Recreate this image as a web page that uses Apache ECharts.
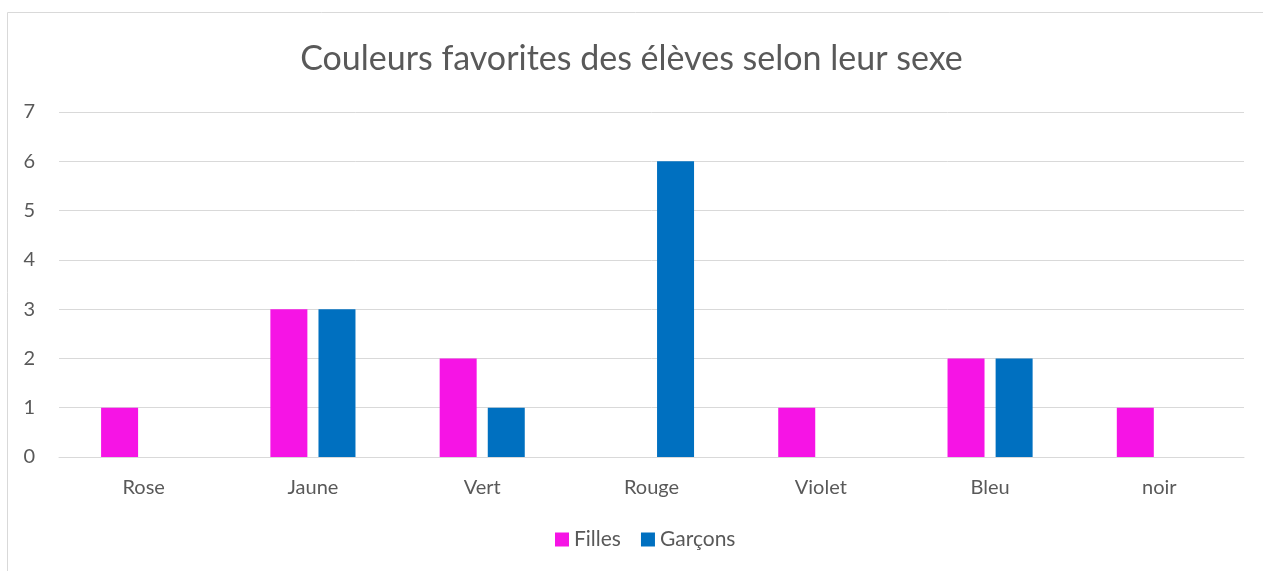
<!DOCTYPE html>
<html>
<head>
<meta charset="utf-8">
<script src="https://cdn.jsdelivr.net/npm/echarts@6/dist/echarts.min.js"></script>
<style>
  html, body { margin: 0; padding: 0; background: #fff; }
  #chart { width: 1263px; height: 571px; }
</style>
</head>
<body>
<div id="chart"></div>
<script>
var categories = ['Rose', 'Jaune', 'Vert', 'Rouge', 'Violet', 'Bleu', 'noir'];
var filles = [1, 3, 2, 0, 1, 2, 1];
var garcons = [0, 3, 1, 6, 0, 2, 0];

var font = 'Lato, "Open Sans", sans-serif';
var chart = echarts.init(document.getElementById('chart'));

chart.setOption({
    animation: false,
    textStyle: { fontFamily: font },
    graphic: [{
        type: 'rect',
        shape: { x: 7.5, y: 12.5, width: 1260, height: 600 },
        style: { fill: 'none', stroke: '#d9d9d9', lineWidth: 1 },
        silent: true
    }],
    title: {
        text: 'Couleurs favorites des élèves selon leur sexe',
        left: 'center',
        top: 37,
        textStyle: { fontFamily: font, fontSize: 34, fontWeight: 'normal', color: '#595959' }
    },
    legend: {
        bottom: 16,
        left: 550,
        itemWidth: 14,
        itemHeight: 14,
        itemGap: 20,
        icon: 'rect',
        textStyle: { fontFamily: font, fontSize: 21, color: '#595959' },
        data: ['Filles', 'Garçons']
    },
    grid: {
        left: 59,
        right: 19,
        top: 112,
        bottom: 114,
        containLabel: false
    },
    xAxis: {
        type: 'category',
        data: categories,
        axisLine: { lineStyle: { color: '#d9d9d9', width: 1 } },
        axisTick: { show: false },
        axisLabel: { fontFamily: font, fontSize: 20, color: '#595959', margin: 21 }
    },
    yAxis: {
        type: 'value',
        min: 0,
        max: 7,
        interval: 1,
        axisLine: { show: false },
        axisTick: { show: false },
        splitLine: { lineStyle: { color: '#d9d9d9', width: 1 } },
        axisLabel: { fontFamily: font, fontSize: 20, color: '#595959', margin: 24 }
    },
    series: [
        {
            name: 'Filles',
            type: 'bar',
            data: filles,
            barWidth: 37,
            barGap: '30%',
            itemStyle: { color: '#F614E5' }
        },
        {
            name: 'Garçons',
            type: 'bar',
            data: garcons,
            barWidth: 37,
            itemStyle: { color: '#0070C0' }
        }
    ]
});
</script>
</body>
</html>
